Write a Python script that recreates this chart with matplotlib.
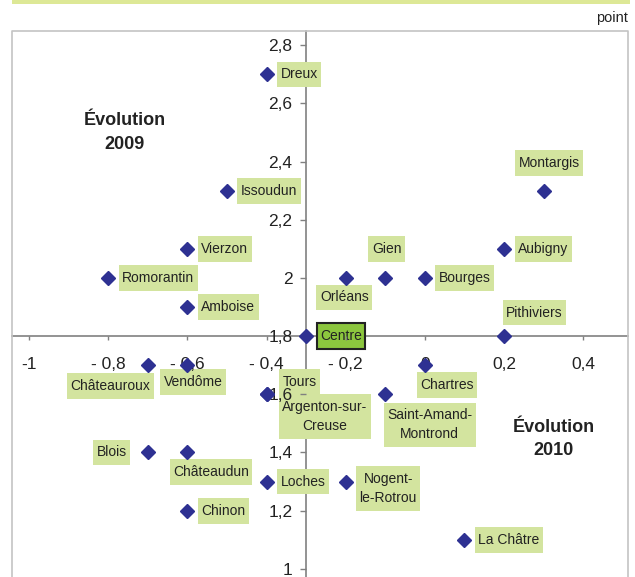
import matplotlib
matplotlib.use("Agg")
import matplotlib.pyplot as plt
from matplotlib.patches import Rectangle
from matplotlib.path import Path

plt.rcParams["font.family"] = ["Liberation Sans", "DejaVu Sans"]

# cities: evolution 2010 (x) vs evolution 2009 (y), in points
names = ["Dreux", "Issoudun", "Vierzon", "Romorantin", "Amboise", "Montargis",
         "Aubigny", "Gien", "Orléans", "Bourges", "Pithiviers", "Centre",
         "Châteauroux", "Vendôme", "Chartres", "Tours", "Argenton-sur-\nCreuse",
         "Saint-Amand-\nMontrond", "Blois", "Châteaudun", "Loches",
         "Nogent-\nle-Rotrou", "Chinon", "La Châtre"]
evol_2010 = [-0.4, -0.5, -0.6, -0.8, -0.6, 0.3,
             0.2, -0.1, -0.2, 0.0, 0.2, -0.3,
             -0.7, -0.6, 0.0, -0.4, -0.4,
             -0.1, -0.7, -0.6, -0.4,
             -0.2, -0.6, 0.1]
evol_2009 = [2.7, 2.3, 2.1, 2.0, 1.9, 2.3,
             2.1, 2.0, 2.0, 2.0, 1.8, 1.8,
             1.7, 1.7, 1.7, 1.6, 1.6,
             1.6, 1.4, 1.4, 1.3,
             1.3, 1.2, 1.1]

xticks = [-1, -0.8, -0.6, -0.4, -0.2, 0, 0.2, 0.4]
xticklabels = ["-1", "- 0,8", "- 0,6", "- 0,4", "- 0,2", "0", "0,2", "0,4"]
yticks = [1, 1.2, 1.4, 1.6, 1.8, 2, 2.2, 2.4, 2.6, 2.8]
yticklabels = ["1", "1,2", "1,4", "1,6", "1,8", "2", "2,2", "2,4", "2,6", "2,8"]

# label placement (offset in points, horizontal alignment); default: right of marker
label_pos = {
    "Montargis": (4, 20, "center"),
    "Gien": (1, 21, "center"),
    "Orléans": (-1, -14, "center"),
    "Pithiviers": (22, 17, "center"),
    "Châteauroux": (-27, -15, "center"),
    "Vendôme": (4, -12, "center"),
    "Chartres": (16, -14, "center"),
    "Tours": (24, 9, "center"),
    "Argenton-sur-\nCreuse": (42, -16, "center"),
    "Saint-Amand-\nMontrond": (32, -22, "center"),
    "Blois": (-15, 0, "right"),
    "Châteaudun": (17, -14, "center"),
    "Nogent-\nle-Rotrou": (10, -5, "left"),
}


def label_box(x0, y0, width, height, mutation_size):
    # square box, more padding above/below than left/right (like Excel labels)
    px, py = 0.25 * mutation_size, 0.42 * mutation_size
    x0, y0 = x0 - px, y0 - py
    x1, y1 = x0 + width + 2 * px, y0 + height + 2 * py
    return Path([(x0, y0), (x1, y0), (x1, y1), (x0, y1), (x0, y0)],
                closed=True)


W, H = 635, 577
fig = plt.figure(figsize=(W / 100, H / 100), dpi=100)
ax = fig.add_axes([12 / W, 0, (628 - 12) / W, (577 - 31) / H])
ax.set_xlim(-1.043, 0.513)
ax.set_ylim(0.972, 2.849)

grey = "#808080"
for s in ("top", "right"):
    ax.spines[s].set_visible(False)
ax.spines["left"].set_position(("data", -0.3))
ax.spines["bottom"].set_position(("data", 1.8))
for s in ("left", "bottom"):
    ax.spines[s].set_color(grey)
    ax.spines[s].set_linewidth(1.2)
    ax.spines[s].set_zorder(1)

# outer frame (bottom edge is cut off in the original)
ax.plot([0, 0, 1, 1], [0, 1, 1, 0], transform=ax.transAxes, color="#c4c4c4",
        lw=1.2, clip_on=False)

ax.set_xticks(xticks)
ax.set_xticklabels(xticklabels)
ax.set_yticks(yticks)
ax.set_yticklabels(yticklabels)
ax.tick_params(axis="x", direction="out", length=3, width=1, color=grey,
               pad=12, labelsize=12.5, labelcolor="#222222")
ax.tick_params(axis="y", direction="out", length=4, width=1, color=grey,
               pad=6, labelsize=12.5, labelcolor="#222222")
# tick labels sit on top of the data-label boxes, as in Excel
ax.xaxis.set_zorder(5)
ax.yaxis.set_zorder(5)

ax.plot(evol_2010, evol_2009, "D", color="#2e3192", ms=7.5, zorder=6,
        clip_on=False)

for name, x, y in zip(names, evol_2010, evol_2009):
    dx, dy, ha = label_pos.get(name, (10, 0, "left"))
    if name == "Centre":
        box = dict(boxstyle=label_box, fc="#8cc63e", ec="#222222", lw=1.5)
    else:
        box = dict(boxstyle=label_box, fc="#d3e49f", ec="none")
    ax.annotate(name, (x, y), xytext=(dx, dy), textcoords="offset points",
                ha=ha, va="center", multialignment="center", fontsize=10,
                color="#222222", bbox=box, zorder=4, linespacing=1.45)

ax.text(-0.758, 2.50, "Évolution\n2009", ha="center", va="center",
        fontsize=13, fontweight="bold", color="#222222", linespacing=1.5)
ax.text(0.326, 1.447, "Évolution\n2010", ha="center", va="center",
        fontsize=13, fontweight="bold", color="#222222", linespacing=1.5)

# top title band (cut off) and unit
fig.patches.append(Rectangle((12 / W, 1 - 4 / H), (630 - 12) / W, 4 / H,
                             transform=fig.transFigure, fc="#dde896", ec="none"))
fig.text(628 / W, 1 - 18 / H, "point", ha="right", va="center", fontsize=10.5,
         color="#222222")

fig.savefig("out.png", dpi=100)
